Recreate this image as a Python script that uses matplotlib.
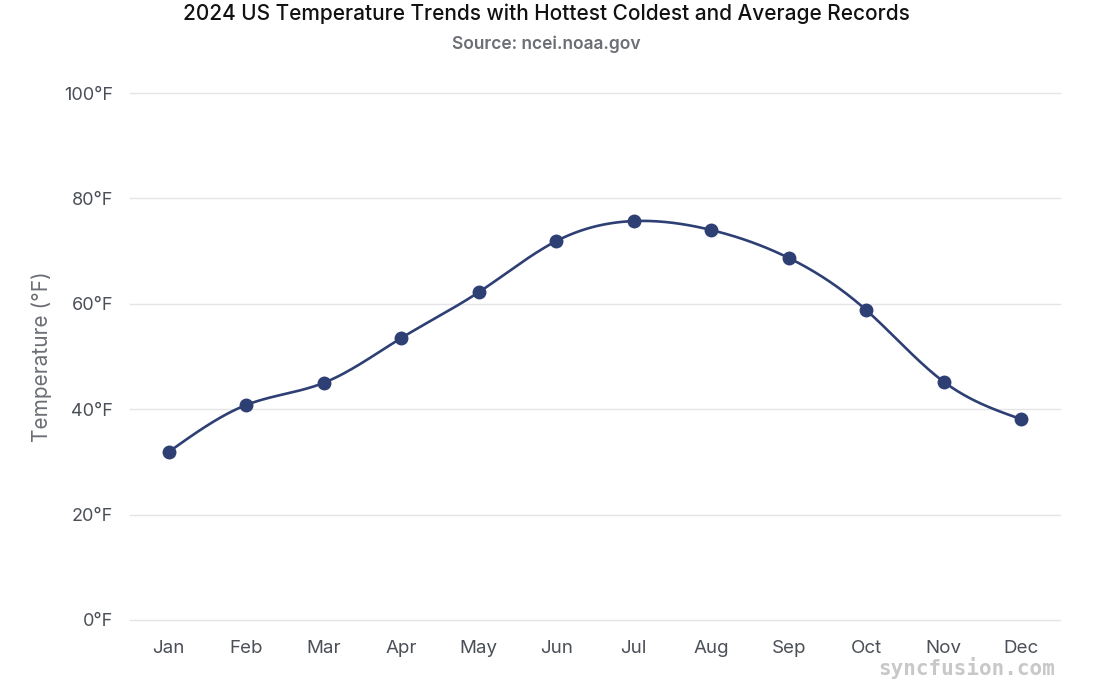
import matplotlib
matplotlib.use("Agg")
import matplotlib.pyplot as plt
import numpy as np

months = ['Jan', 'Feb', 'Mar', 'Apr', 'May', 'Jun', 'Jul', 'Aug', 'Sep', 'Oct', 'Nov', 'Dec']
avg_temp = [31.9, 40.8, 45.0, 53.5, 62.2, 71.9, 75.7, 74.0, 68.7, 58.8, 45.2, 38.1]
y_ticks = [0, 20, 40, 60, 80, 100]

plt.rcParams['font.family'] = ['Inter', 'DejaVu Sans']


def natural_spline(x, y, n=40):
    # natural cubic spline, only for drawing the smooth line between points
    x = np.asarray(x, float)
    y = np.asarray(y, float)
    k = len(x)
    h = np.diff(x)
    A = np.zeros((k, k))
    b = np.zeros(k)
    A[0, 0] = A[-1, -1] = 1
    for i in range(1, k - 1):
        A[i, i - 1] = h[i - 1]
        A[i, i] = 2 * (h[i - 1] + h[i])
        A[i, i + 1] = h[i]
        b[i] = 6 * ((y[i + 1] - y[i]) / h[i] - (y[i] - y[i - 1]) / h[i - 1])
    m = np.linalg.solve(A, b)
    xs, ys = [], []
    for i in range(k - 1):
        t = np.linspace(x[i], x[i + 1], n)
        a = (x[i + 1] - t) / h[i]
        c = (t - x[i]) / h[i]
        s = (a * y[i] + c * y[i + 1]
             + ((a ** 3 - a) * m[i] + (c ** 3 - c) * m[i + 1]) * h[i] ** 2 / 6)
        xs.extend(t)
        ys.extend(s)
    return np.array(xs), np.array(ys)


fig = plt.figure(figsize=(10.94, 6.88), dpi=100)
ax = fig.add_axes([130 / 1094, 1 - 620 / 688, 930 / 1094, 527 / 688])

x = np.arange(len(months))
sx, sy = natural_spline(x, avg_temp)
color = '#2e3f74'
ax.plot(sx, sy, color=color, linewidth=1.9, zorder=3)
ax.plot(x, avg_temp, 'o', color=color, markersize=9, zorder=4)

ax.set_xlim(-0.5, 11.5)
ax.set_ylim(0, 100)
ax.set_xticks(x)
ax.set_xticklabels(months)
ax.set_yticks(y_ticks)
ax.set_yticklabels([f'{v}°F' for v in y_ticks])
ax.tick_params(axis='both', length=0, labelsize=13, labelcolor='#4b4f57')
ax.tick_params(axis='x', pad=14.5, labelsize=13.5)
ax.tick_params(axis='y', pad=12)
ax.grid(axis='y', color='#e4e4e9', linewidth=1)
for gl in ax.get_ygridlines():
    gl.set_clip_on(False)
ax.set_axisbelow(True)
for s in ax.spines.values():
    s.set_visible(False)

fig.text(42 / 1094, 1 - 357 / 688, 'Temperature (°F)', rotation=90, ha='center', va='center',
         fontsize=15, color='#6b6e74')
fig.text(546 / 1094, 1 - 14 / 688, '2024 US Temperature Trends with Hottest Coldest and Average Records',
         ha='center', va='center', fontsize=15, color='#111111', fontweight='medium')
fig.text(546 / 1094, 1 - 44 / 688, 'Source: ncei.noaa.gov', ha='center', va='center',
         fontsize=12.5, color='#6b6e74', fontweight='semibold')
fig.text(1055 / 1094, 1 - 668 / 688, 'syncfusion.com', ha='right', va='center',
         fontsize=15, color='#c8c8c8', family='DejaVu Sans Mono', fontweight='bold')

fig.savefig('out.png', dpi=100)
